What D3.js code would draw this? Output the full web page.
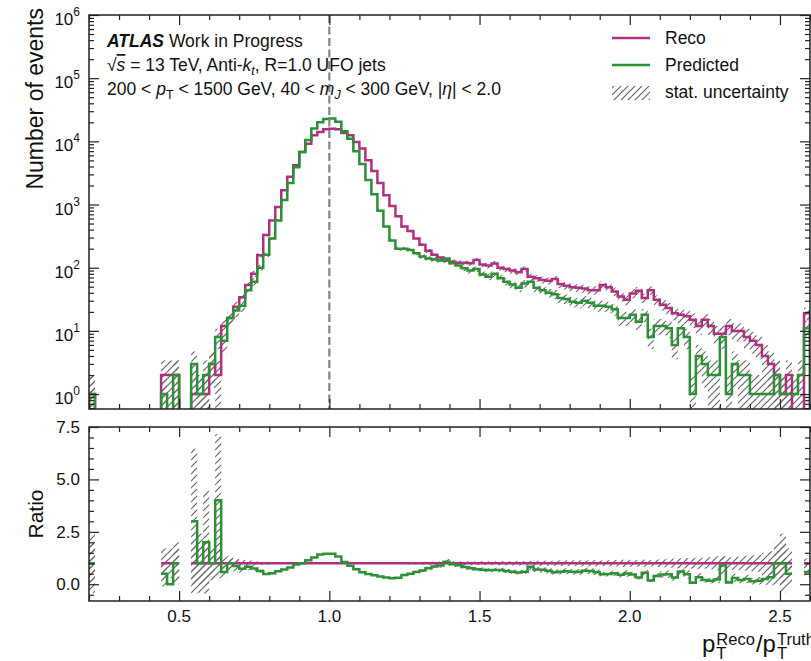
<!DOCTYPE html>
<html>
<head>
<meta charset="utf-8">
<script src="https://cdn.jsdelivr.net/npm/d3@7"></script>
<style>
body { margin: 0; background: #fff; }
text { font-family: "Liberation Sans", Arial, sans-serif; fill: #111; }
</style>
</head>
<body>
<div id="chart-area"></div>
<script>
// histogram binning of pT(reco)/pT(truth)
const binStart = 0.2
const binWidth = 0.02
const nBins = 120

// Reco counts per bin
const reco = [
  1, 0, 0, 0, 0, 0, 0, 0, 0, 0, 0, 0,
  2, 2, 2, 0, 0, 1, 1, 1, 3, 2,
  12, 16, 24, 34, 53, 80, 158, 330, 560, 910,
  1690, 2750, 4170, 6770, 9200, 12500, 14100, 15500, 15800, 15500,
  13600, 12500, 9750, 7700, 5000, 3400, 2200, 1400, 950, 650,
  450, 380, 290, 230, 185, 160, 145, 130, 124, 120,
  120, 118, 132, 112, 108, 117, 100, 95, 90, 85,
  95, 72, 68, 64, 62, 66, 55, 52, 49, 48,
  47, 44, 44, 53, 49, 42, 35, 31, 39, 43,
  33, 44, 31, 26, 23, 19, 18, 17, 15, 12,
  15, 12, 9, 9, 12, 10, 10, 8, 7, 6,
  4, 3, 2, 1, 2, 0, 0, 19
]

// Predicted counts per bin
const pred = [
  1, 0, 0, 0, 0, 0, 0, 0, 0, 0, 0, 0,
  1, 0, 2, 0, 0, 3, 1, 2, 3, 8,
  7, 16, 21, 25, 44, 60, 100, 160, 290, 560,
  1180, 2200, 3900, 6800, 10500, 16000, 20000, 22500, 23000, 20500,
  14500, 11000, 7000, 4400, 2450, 1450, 800, 450, 270, 200,
  200, 190, 170, 150, 140, 135, 130, 140, 118, 108,
  98, 90, 95, 78, 72, 80, 68, 60, 54, 48,
  56, 60, 48, 44, 40, 38, 33, 32, 29, 28,
  30, 28, 25, 25, 24, 22, 16, 16, 18, 14,
  18, 8, 12, 12, 11, 6, 11, 8, 1, 4,
  3, 2, 2, 8, 1, 3, 2, 2, 1, 1,
  1, 1, 2, 1, 1, 1, 2, 11
]

const xMajor = [0.5, 1.0, 1.5, 2.0, 2.5]
const logMajor = [1, 10, 100, 1000, 10000, 100000, 1000000]
const logExp = ['0', '1', '2', '3', '4', '5', '6']
const ratioMajor = [0, 2.5, 5, 7.5]

const W = 811, H = 661
const left = 89, right = 810
const top1 = 15, bot1 = 409
const top2 = 427, bot2 = 601

const RECO_COL = '#b0307f'
const PRED_COL = '#2a9134'
const FRAME = '#222'

const edges = d3.range(nBins + 1).map(i => +(binStart + i * binWidth).toFixed(4))
const ratio = reco.map((r, i) => r > 0 ? pred[i] / r : null)

const svg = d3.select('#chart-area')
              .append('svg')
              .attr('width', W)
              .attr('height', H)

const x = d3.scaleLinear().domain([0.2, 2.6]).range([left, right])
const y = d3.scaleLog().domain([0.58, 1e6]).range([bot1, top1])
const yr = d3.scaleLinear().domain([-0.8, 7.5]).range([bot2, top2])

// hatch pattern for stat. uncertainty
const defs = svg.append('defs')
defs.append('pattern')
    .attr('id', 'hatch')
    .attr('patternUnits', 'userSpaceOnUse')
    .attr('width', 7)
    .attr('height', 7)
  .append('path')
    .attr('d', 'M-1,1 l2,-2 M0,7 l7,-7 M6,8 l2,-2')
    .attr('stroke', '#666')
    .attr('stroke-width', 1.2)

defs.append('clipPath').attr('id', 'clipTop')
    .append('rect').attr('x', left).attr('y', top1)
    .attr('width', right - left).attr('height', bot1 - top1)
defs.append('clipPath').attr('id', 'clipBot')
    .append('rect').attr('x', left).attr('y', top2)
    .attr('width', right - left).attr('height', bot2 - top2)

// ---------- TOP PANEL ----------
const gTop = svg.append('g').attr('clip-path', 'url(#clipTop)')

// stat. uncertainty bands (poisson) on both histograms
const topBand = []
reco.forEach((r, i) => { if (r > 0) topBand.push({ i, v: r }) })
pred.forEach((p, i) => { if (p > 0) topBand.push({ i, v: p }) })

gTop.selectAll('rect.band')
    .data(topBand)
    .enter()
    .append('rect')
    .attr('class', 'band')
    .attr('x', d => x(edges[d.i]))
    .attr('width', d => x(edges[d.i + 1]) - x(edges[d.i]))
    .attr('y', d => y(d.v + Math.sqrt(d.v)))
    .attr('height', d => {
        const lo = d.v - Math.sqrt(d.v)
        const yl = lo > 0 ? y(lo) : bot1 + 5
        return yl - y(d.v + Math.sqrt(d.v))
    })
    .attr('fill', 'url(#hatch)')

function stepPts(vals, floor) {
    const pts = [{ x: edges[0], v: floor }]
    vals.forEach((v, i) => {
        pts.push({ x: edges[i], v: v }, { x: edges[i + 1], v: v })
    })
    pts.push({ x: edges[nBins], v: floor })
    return pts
}

const histLine = d3.line()
                   .x(d => x(d.x))
                   .y(d => y(Math.max(d.v, 1e-3)))

gTop.append('path')
    .attr('d', histLine(stepPts(reco, 1e-3)))
    .attr('fill', 'none')
    .attr('stroke', RECO_COL)
    .attr('stroke-width', 2.5)

gTop.append('path')
    .attr('d', histLine(stepPts(pred, 1e-3)))
    .attr('fill', 'none')
    .attr('stroke', PRED_COL)
    .attr('stroke-width', 2.5)

// dashed line at 1.0
svg.append('line')
   .attr('x1', x(1.0)).attr('x2', x(1.0))
   .attr('y1', top1).attr('y2', bot1)
   .attr('stroke', '#858585')
   .attr('stroke-width', 2.2)
   .attr('stroke-dasharray', '8,3.5')

// ---------- RATIO PANEL ----------
const gBot = svg.append('g').attr('clip-path', 'url(#clipBot)')

const rBand = []
reco.forEach((r, i) => {
    const p = pred[i]
    if (r > 0) {
        // reco stat. band around 1
        rBand.push({ i, lo: 1 - 1 / Math.sqrt(r), hi: 1 + 1 / Math.sqrt(r) })
    }
    if (r > 0 && p > 0) {
        const rv = p / r
        const e = rv * Math.sqrt(1 / p + 1 / r)
        rBand.push({ i, lo: rv - e, hi: rv + e })
    }
})

gBot.selectAll('rect.rband')
    .data(rBand)
    .enter()
    .append('rect')
    .attr('class', 'rband')
    .attr('x', d => x(edges[d.i]))
    .attr('width', d => x(edges[d.i + 1]) - x(edges[d.i]))
    .attr('y', d => yr(d.hi))
    .attr('height', d => yr(d.lo) - yr(d.hi))
    .attr('fill', 'url(#hatch)')

function ratioPts(vals) {
    const pts = []
    vals.forEach((v, i) => {
        pts.push({ x: edges[i], v: v }, { x: edges[i + 1], v: v })
    })
    return pts
}

const ratioLine = d3.line()
                    .defined(d => d.v !== null)
                    .x(d => x(d.x))
                    .y(d => yr(d.v))

gBot.append('path')
    .attr('d', ratioLine(ratioPts(reco.map(r => r > 0 ? 1 : null))))
    .attr('fill', 'none')
    .attr('stroke', RECO_COL)
    .attr('stroke-width', 2.5)

gBot.append('path')
    .attr('d', ratioLine(ratioPts(ratio)))
    .attr('fill', 'none')
    .attr('stroke', PRED_COL)
    .attr('stroke-width', 2.5)

// ---------- AXES / FRAMES ----------
const xMinor = d3.range(2, 27).map(v => v / 10).filter(v => Math.abs(v * 2 - Math.round(v * 2)) > 1e-6)
const logMinor = []
for (let e = -1; e < 6; e++) {
    for (let m = 2; m < 10; m++) {
        const v = m * Math.pow(10, e)
        if (v > 0.58 && v < 1e6) logMinor.push(v)
    }
}
const ratioMinor = d3.range(-0.5, 7.5, 0.5).filter(v => !ratioMajor.includes(v))

function ticks(gsel, axisFn, scale, vals, size, tx, ty) {
    gsel.append('g')
        .attr('transform', 'translate(' + tx + ',' + ty + ')')
        .call(axisFn(scale).tickValues(vals).tickSize(-size).tickFormat(''))
        .call(g => g.select('.domain').remove())
        .call(g => g.selectAll('line').attr('stroke', FRAME).attr('stroke-width', 1.2))
}

const axes = svg.append('g')

// top panel
ticks(axes, d3.axisBottom, x, xMajor, 10, 0, bot1)
ticks(axes, d3.axisBottom, x, xMinor, 5, 0, bot1)
ticks(axes, d3.axisTop, x, xMajor, 10, 0, top1)
ticks(axes, d3.axisTop, x, xMinor, 5, 0, top1)
ticks(axes, d3.axisLeft, y, logMajor, 10, left, 0)
ticks(axes, d3.axisLeft, y, logMinor, 5, left, 0)
ticks(axes, d3.axisRight, y, logMajor, 10, right, 0)
ticks(axes, d3.axisRight, y, logMinor, 5, right, 0)

// ratio panel
ticks(axes, d3.axisBottom, x, xMajor, 10, 0, bot2)
ticks(axes, d3.axisBottom, x, xMinor, 5, 0, bot2)
ticks(axes, d3.axisTop, x, xMajor, 10, 0, top2)
ticks(axes, d3.axisTop, x, xMinor, 5, 0, top2)
ticks(axes, d3.axisLeft, yr, ratioMajor, 10, left, 0)
ticks(axes, d3.axisLeft, yr, ratioMinor, 5, left, 0)
ticks(axes, d3.axisRight, yr, ratioMajor, 10, right, 0)
ticks(axes, d3.axisRight, yr, ratioMinor, 5, right, 0)

axes.append('rect')
    .attr('x', left).attr('y', top1)
    .attr('width', right - left).attr('height', bot1 - top1)
    .attr('fill', 'none').attr('stroke', FRAME).attr('stroke-width', 1.5)
axes.append('rect')
    .attr('x', left).attr('y', top2)
    .attr('width', right - left).attr('height', bot2 - top2)
    .attr('fill', 'none').attr('stroke', FRAME).attr('stroke-width', 1.5)

// tick labels
const FS = 17
logMajor.forEach((v, i) => {
    const t = svg.append('text')
                 .attr('x', left - 9)
                 .attr('y', y(v) + 10)
                 .attr('text-anchor', 'end')
                 .attr('font-size', FS)
    t.append('tspan').text('10')
    t.append('tspan').attr('font-size', 12).attr('dy', -9).text(logExp[i])
})

svg.selectAll('text.rlab')
   .data(ratioMajor)
   .enter()
   .append('text')
   .attr('class', 'rlab')
   .attr('x', left - 9)
   .attr('y', d => yr(d) + 6)
   .attr('text-anchor', 'end')
   .attr('font-size', FS)
   .text(d => d3.format('.1f')(d))

svg.selectAll('text.xlab')
   .data(xMajor)
   .enter()
   .append('text')
   .attr('class', 'xlab')
   .attr('x', d => x(d))
   .attr('y', bot2 + 21)
   .attr('text-anchor', 'middle')
   .attr('font-size', FS)
   .text(d => d3.format('.1f')(d))

// axis titles
svg.append('text')
   .attr('transform', 'translate(43,' + 8 + ') rotate(-90)')
   .attr('text-anchor', 'end')
   .attr('font-size', 23)
   .text('Number of events')

svg.append('text')
   .attr('transform', 'translate(43,' + ((top2 + bot2) / 2) + ') rotate(-90)')
   .attr('text-anchor', 'middle')
   .attr('font-size', 21)
   .text('Ratio')

// x title: p_T^Reco / p_T^Truth
function pLabel(x0) {
    const p = svg.append('text').attr('x', x0).attr('y', 652).attr('font-size', 24).text('p')
    const pw = p.node().getComputedTextLength()
    const sup = svg.append('text').attr('x', x0 + pw + 1).attr('y', 645).attr('font-size', 16.5)
    const sub = svg.append('text').attr('x', x0 + pw + 1).attr('y', 659).attr('font-size', 16.5).text('T')
    return { sup, sub, end: () => x0 + pw + 1 + Math.max(sup.node().getComputedTextLength(), sub.node().getComputedTextLength()) }
}
const l1 = pLabel(702)
l1.sup.text('Reco')
const slash = svg.append('text').attr('x', l1.end() + 1).attr('y', 652).attr('font-size', 24).text('/')
const l2 = pLabel(l1.end() + 1 + slash.node().getComputedTextLength())
l2.sup.text('Truth')

// ---------- ANNOTATIONS ----------
const AF = 17.5
const ann1 = svg.append('text').attr('x', 107).attr('y', 47).attr('font-size', AF)
ann1.append('tspan').attr('font-weight', 'bold').attr('font-style', 'italic').text('ATLAS')
ann1.append('tspan').text(' Work in Progress')

const ann2 = svg.append('text').attr('x', 107).attr('y', 71).attr('font-size', AF)
ann2.append('tspan').text('\u221A')
ann2.append('tspan').attr('font-style', 'italic').attr('text-decoration', 'overline').text('s')
ann2.append('tspan').text(' = 13 TeV, Anti-')
ann2.append('tspan').attr('font-style', 'italic').text('k')
ann2.append('tspan').attr('font-style', 'italic').attr('font-size', 12.5).attr('dy', 4).text('t')
ann2.append('tspan').attr('dy', -4).text(', R=1.0 UFO jets')

const ann3 = svg.append('text').attr('x', 107).attr('y', 95).attr('font-size', AF)
ann3.append('tspan').text('200 < ')
ann3.append('tspan').attr('font-style', 'italic').text('p')
ann3.append('tspan').attr('font-size', 12.5).attr('dy', 4).text('T')
ann3.append('tspan').attr('dy', -4).text(' < 1500 GeV, 40 < ')
ann3.append('tspan').attr('font-style', 'italic').text('m')
ann3.append('tspan').attr('font-style', 'italic').attr('font-size', 12.5).attr('dy', 4).text('J')
ann3.append('tspan').attr('dy', -4).text(' < 300 GeV, |')
ann3.append('tspan').attr('font-style', 'italic').text('\u03B7')
ann3.append('tspan').text('| < 2.0')

// ---------- LEGEND ----------
const leg = svg.append('g')
leg.append('line').attr('x1', 612).attr('x2', 650).attr('y1', 38).attr('y2', 38)
   .attr('stroke', RECO_COL).attr('stroke-width', 2.5)
leg.append('line').attr('x1', 612).attr('x2', 650).attr('y1', 65).attr('y2', 65)
   .attr('stroke', PRED_COL).attr('stroke-width', 2.5)
leg.append('rect').attr('x', 612).attr('y', 86).attr('width', 38).attr('height', 14)
   .attr('fill', 'url(#hatch)')
leg.selectAll('text')
   .data(['Reco', 'Predicted', 'stat. uncertainty'])
   .enter()
   .append('text')
   .attr('x', 665)
   .attr('y', (d, i) => 44 + i * 27)
   .attr('font-size', AF)
   .text(d => d)
</script>
</body>
</html>
